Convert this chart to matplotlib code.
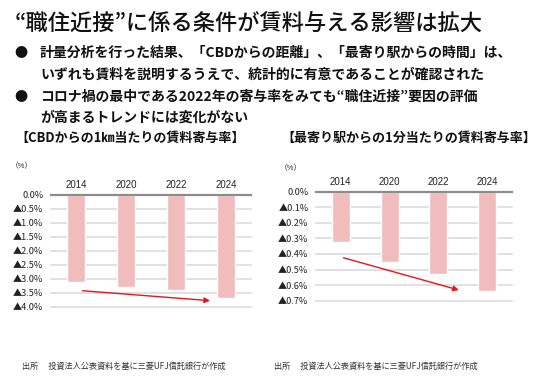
import matplotlib
matplotlib.use("Agg")
import matplotlib.pyplot as plt
from matplotlib.ticker import FixedLocator, FuncFormatter

plt.rcParams['font.family'] = ['Noto Sans CJK JP', 'DejaVu Sans']

years = ["2014", "2020", "2022", "2024"]
cbd_values = [-3.10, -3.28, -3.40, -3.70]
station_values = [-0.325, -0.453, -0.529, -0.638]
cbd_ticks = [0.0, -0.5, -1.0, -1.5, -2.0, -2.5, -3.0, -3.5, -4.0]
station_ticks = [0.0, -0.1, -0.2, -0.3, -0.4, -0.5, -0.6, -0.7]

title = "“職住近接”に係る条件が賃料与える影響は拡大"
bullets = [
    "計量分析を行った結果、「CBDからの距離」、「最寄り駅からの時間」は、",
    "いずれも賃料を説明するうえで、統計的に有意であることが確認された",
    "コロナ禍の最中である2022年の寄与率をみても“職住近接”要因の評価",
    "が高まるトレンドには変化がない",
]
left_title = "【CBDからの1㎞当たりの賃料寄与率】"
right_title = "【最寄り駅からの1分当たりの賃料寄与率】"
source = "出所　 投資法人公表資料を基に三菱UFJ信託銀行が作成"

W, H = 536, 385
fig = plt.figure(figsize=(W / 100, H / 100), dpi=100)
fig.patch.set_facecolor("white")

year_family = ['Liberation Sans', 'DejaVu Sans']
ytick_family = ['Noto Sans CJK JP', 'DejaVu Sans']


def px(x, y):
    return x / W, 1 - y / H


def fmt(v, pos):
    if abs(v) < 1e-9:
        return "0.0%"
    return "▲{:.1f}%".format(abs(v))


def make_chart(rect, values, ticks, arrow_start, arrow_end):
    x0, y0, x1, y1 = rect
    ax = fig.add_axes([x0 / W, 1 - y1 / H, (x1 - x0) / W, (y1 - y0) / H])
    ax.set_xlim(-0.5, len(years) - 0.5)
    ax.set_ylim(min(ticks), 0)
    for t in ticks[1:]:
        ax.axhline(t, color="#dcdcdc", lw=1.2, zorder=1, clip_on=False)
    ax.bar(range(len(years)), values, width=0.37, color="#f0bcbc",
           edgecolor="white", linewidth=1.0, zorder=2)
    ax.axhline(0, color="#8c8c8c", lw=1.6, zorder=3, clip_on=False)
    ax.yaxis.set_major_locator(FixedLocator(ticks))
    ax.yaxis.set_major_formatter(FuncFormatter(fmt))
    ax.set_xticks(range(len(years)))
    ax.set_xticklabels(years)
    ax.xaxis.tick_top()
    ax.tick_params(axis="x", length=0, pad=3.5, labelsize=7, colors="#222222")
    ax.tick_params(axis="y", length=0, pad=5.5, labelsize=6.6, colors="#222222")
    for lab in ax.get_xticklabels():
        lab.set_family(year_family)
    for lab in ax.get_yticklabels():
        lab.set_family(ytick_family)
    for s in ax.spines.values():
        s.set_visible(False)
    ax.annotate("", xy=arrow_end, xytext=arrow_start,
                xycoords="axes fraction", textcoords="axes fraction",
                arrowprops=dict(arrowstyle="-|>", color="#e8141c", lw=1.0,
                                mutation_scale=8, shrinkA=0, shrinkB=0),
                zorder=4)
    return ax


make_chart((51, 195, 251, 306.7), cbd_values, cbd_ticks,
           (0.158, 0.143), (0.795, 0.054))
make_chart((316.2, 191.7, 511.8, 300.7), station_values, station_ticks,
           (0.139, 0.394), (0.729, 0.098))

# Header texts
fig.text(*px(15, 23), title, fontsize=16, fontweight="medium", ha="left",
         va="center", color="#111111")
bullet_y = [53, 74.5, 97, 118]
for i, (t, y) in enumerate(zip(bullets, bullet_y)):
    if i in (0, 2):
        fig.text(*px(21, y), "●", fontsize=9.5, ha="center", va="center", color="#111111")
    fig.text(*px(40, y), t, fontsize=10, fontweight="bold", ha="left",
             va="center", color="#111111")

fig.text(*px(15, 137.5), left_title, fontsize=9.4, fontweight="bold",
         ha="left", va="center", color="#111111")
fig.text(*px(281, 137.5), right_title, fontsize=9.4, fontweight="bold",
         ha="left", va="center", color="#111111")
fig.text(*px(22, 166), "（%）", fontsize=5.5, ha="center", va="center", color="#222222")
fig.text(*px(291, 168.3), "（%）", fontsize=5.5, ha="center", va="center", color="#222222")

fig.text(*px(21.5, 366), source, fontsize=5.9, ha="left", va="center", color="#333333")
fig.text(*px(273.5, 366), source, fontsize=5.9, ha="left", va="center", color="#333333")

fig.savefig("out.png", dpi=100, facecolor="white")
